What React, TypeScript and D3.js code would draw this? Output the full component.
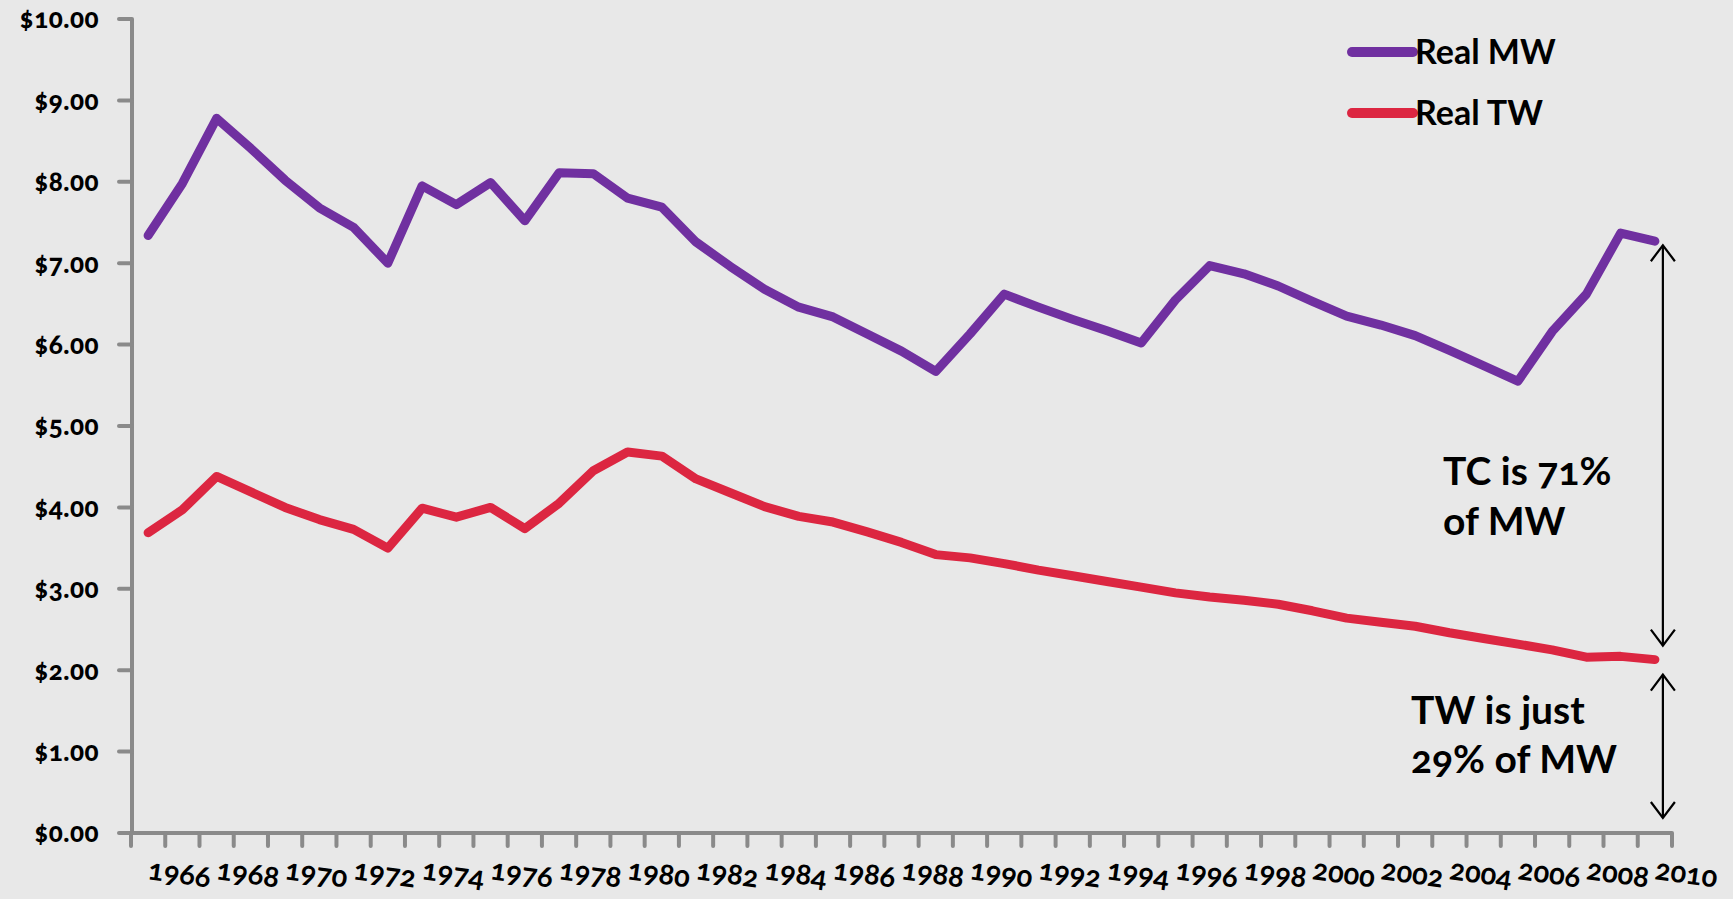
import React from 'react';
import * as d3 from 'd3';

// years on the category axis
const years = d3.range(1966, 2011).map(String);

// Real minimum wage (purple)
const realMW = [
  7.34, 7.98, 8.78, 8.41, 8.02, 7.68, 7.44, 7.0, 7.95, 7.72,
  7.99, 7.52, 8.11, 8.1, 7.8, 7.69, 7.26, 6.96, 6.68, 6.46,
  6.34, 6.13, 5.92, 5.67, 6.13, 6.62, 6.46, 6.31, 6.17, 6.02,
  6.55, 6.97, 6.87, 6.72, 6.53, 6.35, 6.24, 6.11, 5.93, 5.74,
  5.55, 6.16, 6.62, 7.37, 7.27,
];

// Real tipped wage (red)
const realTW = [
  3.69, 3.97, 4.38, 4.19, 4.0, 3.85, 3.73, 3.5, 3.99, 3.88,
  4.0, 3.74, 4.05, 4.45, 4.68, 4.63, 4.35, 4.18, 4.01, 3.89,
  3.82, 3.7, 3.57, 3.42, 3.38, 3.31, 3.23, 3.16, 3.09, 3.02,
  2.95, 2.9, 2.86, 2.81, 2.73, 2.64, 2.59, 2.54, 2.46, 2.39,
  2.32, 2.25, 2.16, 2.17, 2.13,
];

const yTicks = d3.range(0, 11);
const seriesNames = ['Real MW', 'Real TW'];
const seriesColors = ['#7030A0', '#DC2641'];
const noteTop = ['TC is 71%', 'of MW'];
const noteBottom = ['TW is just', '29% of MW'];

const W = 1733;
const H = 899;
const axisColor = '#8a8a8a';
const font = 'Lato, "Open Sans", sans-serif';

const App = () => {
  const x = d3.scaleBand<string>().domain(years).range([131, 1672]).paddingInner(0).paddingOuter(0);
  const y = d3.scaleLinear().domain([0, 10]).range([833, 19]);
  const cx = (d: string) => (x(d) as number) + x.bandwidth() / 2;

  const line = d3
    .line<number>()
    .x((_, i) => cx(years[i]))
    .y((d) => y(d));

  const lastX = cx(years[years.length - 1]);
  const arrowX = lastX + 8;
  const topMW = y(realMW[realMW.length - 1]);
  const topTW = y(realTW[realTW.length - 1]);

  // simple open arrow head
  const head = (px: number, py: number, dir: number) =>
    `M${px - 12},${py + dir * 16} L${px},${py} L${px + 12},${py + dir * 16}`;

  const arrow = (y1: number, y2: number, key: string) => (
    <g key={key} stroke="#000" strokeWidth={2.2} fill="none">
      <line x1={arrowX} x2={arrowX} y1={y1} y2={y2} />
      <path d={head(arrowX, y1, 1)} />
      <path d={head(arrowX, y2, -1)} />
    </g>
  );

  const boundaries = years.map((d) => x(d) as number).concat([x.range()[1]]);

  return (
    <div>
      <style>{`body{margin:0;}`}</style>
      <svg width={W} height={H} style={{ display: 'block', background: '#e8e8e8' }}>
        <rect width={W} height={H} fill="#e8e8e8" />

        {/* y axis */}
        <line x1={132} x2={132} y1={y(10)} y2={y(0)} stroke={axisColor} strokeWidth={4} />
        {yTicks.map((t) => (
          <g key={t}>
            <line x1={119} x2={132} y1={y(t)} y2={y(t)} stroke={axisColor} strokeWidth={4} strokeLinecap="round" />
            <text
              x={99}
              y={y(t)}
              dy="0.36em"
              textAnchor="end"
              fontFamily={font}
              fontWeight={900}
              fontSize={26}
              letterSpacing={0.5}
              style={{ fontVariantNumeric: 'oldstyle-nums' }}
            >
              {d3.format('$.2f')(t)}
            </text>
          </g>
        ))}

        {/* x axis */}
        <line x1={119} x2={x.range()[1]} y1={y(0)} y2={y(0)} stroke={axisColor} strokeWidth={4} />
        {boundaries.map((b, i) => (
          <line key={i} x1={b} x2={b} y1={y(0)} y2={y(0) + 13} stroke={axisColor} strokeWidth={4} strokeLinecap="round" />
        ))}
        {years.map((d, i) =>
          i % 2 === 0 ? (
            <text
              key={d}
              transform={`translate(${cx(d) - 1},${879}) rotate(8)`}
              fontFamily={font}
              fontWeight={700}
              fontSize={29}
              style={{ fontVariantNumeric: 'oldstyle-nums' }}
            >
              {d}
            </text>
          ) : null
        )}

        {/* series */}
        {[realMW, realTW].map((s, i) => (
          <path
            key={seriesNames[i]}
            d={line(s) as string}
            fill="none"
            stroke={seriesColors[i]}
            strokeWidth={9}
            strokeLinejoin="round"
            strokeLinecap="round"
          />
        ))}

        {/* legend */}
        {seriesNames.map((n, i) => (
          <g key={n} transform={`translate(1352,${52 + i * 61})`}>
            <line x1={0} x2={61} y1={0} y2={0} stroke={seriesColors[i]} strokeWidth={10} strokeLinecap="round" />
            <text x={63} y={0} dy="0.36em" fontFamily={font} fontWeight={700} fontSize={34}>
              {n}
            </text>
          </g>
        ))}

        {/* annotations */}
        {arrow(topMW + 4, topTW - 14, 'a1')}
        {arrow(topTW + 15, y(0) - 15, 'a2')}
        {noteTop.map((t, i) => (
          <text
            key={t}
            x={1443}
            y={485 + i * 50}
            fontFamily={font}
            fontWeight={700}
            fontSize={39}
            style={{ fontVariantNumeric: 'oldstyle-nums' }}
          >
            {t}
          </text>
        ))}
        {noteBottom.map((t, i) => (
          <text
            key={t}
            x={1411}
            y={724 + i * 49}
            fontFamily={font}
            fontWeight={700}
            fontSize={39}
            style={{ fontVariantNumeric: 'oldstyle-nums' }}
          >
            {t}
          </text>
        ))}
      </svg>
    </div>
  );
};

export default App;
